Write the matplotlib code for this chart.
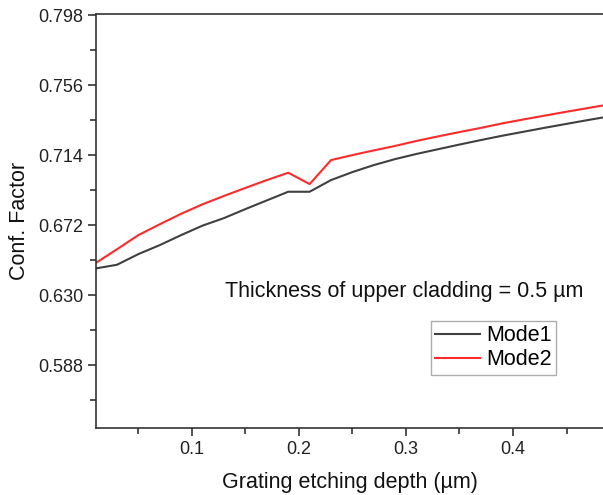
import matplotlib
matplotlib.use("Agg")
import matplotlib.pyplot as plt
from matplotlib.ticker import MultipleLocator, FixedLocator

plt.rcParams['font.family'] = ['Liberation Sans', 'DejaVu Sans']

# grating etching depth (um), sampled every 0.02 um
depth = [0.01, 0.03, 0.05, 0.07, 0.09, 0.11, 0.13, 0.15, 0.17, 0.19,
         0.21, 0.23, 0.25, 0.27, 0.29, 0.31, 0.33, 0.35, 0.37, 0.39,
         0.41, 0.43, 0.45, 0.47, 0.49]

# confinement factor for each mode
mode1 = [0.6460, 0.6482, 0.6546, 0.6600, 0.6660, 0.6717, 0.6762, 0.6816, 0.6868, 0.6920,
         0.6920, 0.6990, 0.7038, 0.7080, 0.7116, 0.7147, 0.7175, 0.7203, 0.7230, 0.7256,
         0.7280, 0.7304, 0.7327, 0.7350, 0.7372]
mode2 = [0.6492, 0.6575, 0.6660, 0.6725, 0.6788, 0.6845, 0.6895, 0.6943, 0.6990, 0.7034,
         0.6966, 0.7110, 0.7140, 0.7168, 0.7195, 0.7225, 0.7252, 0.7278, 0.7303, 0.7330,
         0.7354, 0.7377, 0.7400, 0.7422, 0.7444]

yticks = [0.588, 0.630, 0.672, 0.714, 0.756, 0.798]

fig = plt.figure(figsize=(6.03, 4.95), dpi=100)
ax = fig.add_axes([0.159, 0.135, 0.841, 0.8367])

ax.plot(depth, mode1, color='#404040', lw=1.5, label='Mode1')
ax.plot(depth, mode2, color='#ff2a2a', lw=1.5, label='Mode2')

ax.set_xlim(0.0103, 0.4841)
ax.set_ylim(0.5502, 0.7986)

ax.xaxis.set_major_locator(MultipleLocator(0.1))
ax.xaxis.set_minor_locator(MultipleLocator(0.05))
ax.yaxis.set_major_locator(FixedLocator(yticks))
ax.yaxis.set_minor_locator(FixedLocator([t - 0.021 for t in yticks]))
ax.yaxis.set_major_formatter(plt.FuncFormatter(lambda v, p: f"{v:.3f}"))
ax.xaxis.set_major_formatter(plt.FuncFormatter(lambda v, p: f"{v:.1f}"))

for s in ['left', 'bottom', 'top']:
    ax.spines[s].set_color('#333333')
    ax.spines[s].set_linewidth(1.2)
ax.spines['right'].set_visible(False)

ax.tick_params(which='major', direction='out', length=6, width=1.2, color='#333333',
               labelsize=13, labelcolor='#222222', top=False, right=False, pad=3)
ax.tick_params(which='minor', direction='out', length=4, width=1.2, color='#333333',
               top=False, right=False)

ax.set_xlabel('Grating etching depth (µm)', fontsize=15.5, color='#111111', labelpad=10)
ax.set_ylabel('Conf. Factor', fontsize=15.5, color='#111111', labelpad=6)

ax.text(0.254, 0.331, 'Thickness of upper cladding = 0.5 µm', transform=ax.transAxes,
        fontsize=15.5, color='#111111', va='center', ha='left')

leg = ax.legend(loc='upper left', bbox_to_anchor=(0.66, 0.259), borderaxespad=0,
                fontsize=15.5, frameon=True, fancybox=False, edgecolor='#999999',
                handlelength=2.1, handletextpad=0.3, borderpad=0.2, labelspacing=0.15)
leg.get_frame().set_linewidth(1.0)

fig.savefig('out.png', dpi=100, facecolor='white')
